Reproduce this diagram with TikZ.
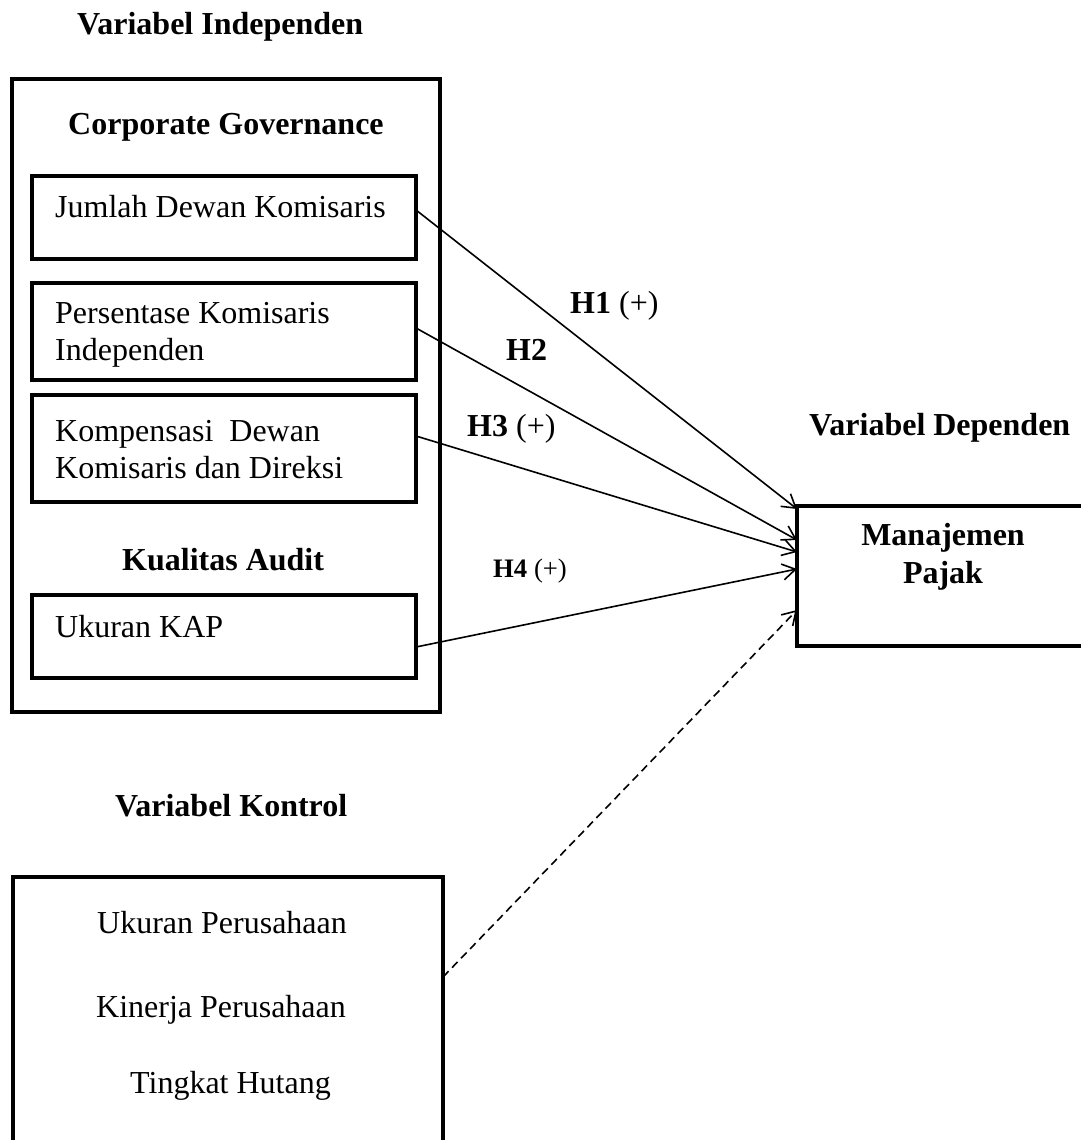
\documentclass[tikz,border=0pt]{standalone}
\usepackage{fontspec}
\setmainfont{Liberation Serif}
\usetikzlibrary{arrows.meta}
\begin{document}
\begin{tikzpicture}[x=1pt,y=-1pt,
  every node/.style={font=\fontsize{32}{37}\selectfont, inner sep=0pt},
  bigbox/.style={draw, line width=4.5pt, inner sep=0pt, outer sep=0pt},
  subbox/.style={draw, line width=4pt, inner sep=0pt, outer sep=0pt},
  lbl/.style={anchor=base west},
  title/.style={anchor=base west, font=\fontsize{32}{37}\selectfont\bfseries},
  hyp/.style={anchor=base west, font=\fontsize{32}{37}\selectfont},
  link/.style={line width=1.6pt, -{Straight Barb[length=13pt,width=16pt,line width=1.6pt]}},
  ctrllink/.style={link, dash pattern=on 8pt off 5pt}
]
\useasboundingbox (0,0) rectangle (1081,1140);

% boxes
\node[bigbox, minimum width=428pt, minimum height=633pt] (ind) at (226,395.5) {};
\node[subbox, minimum width=384pt, minimum height=83pt]  (b1) at (224,217.5) {};
\node[subbox, minimum width=384pt, minimum height=97pt]  (b2) at (224,331.5) {};
\node[subbox, minimum width=384pt, minimum height=107pt] (b3) at (224,448.5) {};
\node[subbox, minimum width=384pt, minimum height=83pt]  (b4) at (224,636.5) {};
\node[bigbox, minimum width=303pt, minimum height=140pt] (mp) at (948.5,576) {};
\node[bigbox, minimum width=430pt, minimum height=283pt] (ctrl) at (228,1018.5) {};

% titles
\node[title] (tind) at (77,35) {Variabel Independen};
\node[title] (tcg) at (68,134) {Corporate Governance};
\node[title] (tka) at (122,570) {Kualitas Audit};
\node[title] (tdep) at (809,435) {Variabel Dependen};
\node[title] (tkon) at (115,816) {Variabel Kontrol};
\node[title, anchor=base] (tmp1) at (943,545) {Manajemen};
\node[title, anchor=base] (tmp2) at (943,583) {Pajak};

% box texts
\node[lbl] (x1) at (55,217) {Jumlah Dewan Komisaris};
\node[lbl] (x2a) at (55,323) {Persentase Komisaris};
\node[lbl] (x2b) at (55,360) {Independen};
\node[lbl] (x3a) at (55,441) {Kompensasi\ \ Dewan};
\node[lbl] (x3b) at (55,478) {Komisaris dan Direksi};
\node[lbl] (x4) at (55,637) {Ukuran KAP};
\node[lbl] (c1) at (97,933) {Ukuran Perusahaan};
\node[lbl] (c2) at (96,1017) {Kinerja Perusahaan};
\node[lbl] (c3) at (130,1093) {Tingkat Hutang};

% hypothesis labels
\node[hyp] (h1) at (570,313) {\textbf{H1} (+)};
\node[hyp] (h2) at (506,360) {\textbf{H2}};
\node[hyp] (h3) at (467,436) {\textbf{H3} (+)};
\node[hyp, font=\fontsize{26.7}{32}\selectfont] (h4) at (493,577) {\textbf{H4} (+)};

% connectors
\draw[link] ([yshift=7.5pt]b1.east) -- ([yshift=67pt]mp.west);
\draw[link] ([yshift=3.5pt]b2.east) -- ([yshift=36pt]mp.west);
\draw[link] ([yshift=12.5pt]b3.east) -- ([yshift=24pt]mp.west);
\draw[link] ([yshift=-10.5pt]b4.east) -- ([yshift=7pt]mp.west);
\draw[ctrllink] ([yshift=41.5pt]ctrl.east) -- ([yshift=-34pt]mp.west);
\end{tikzpicture}
\end{document}
